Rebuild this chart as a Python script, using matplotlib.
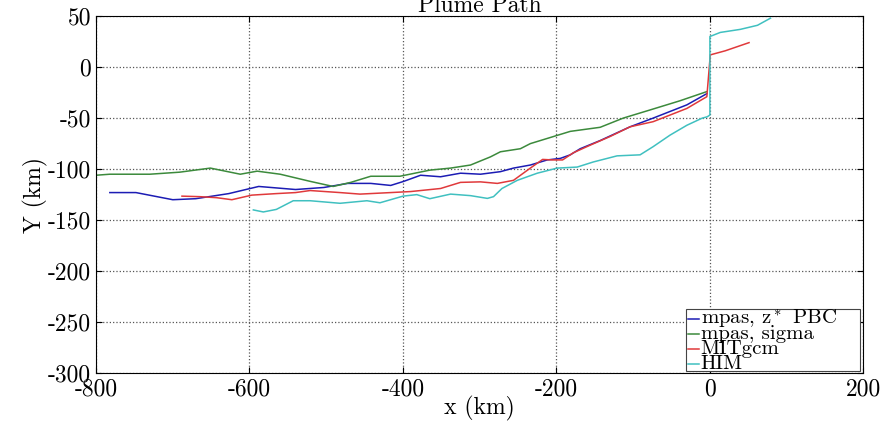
import matplotlib
matplotlib.use("Agg")
import matplotlib.pyplot as plt
from matplotlib.patches import Rectangle
from matplotlib.lines import Line2D

plt.rcParams['font.family'] = 'serif'
plt.rcParams['font.serif'] = ['cmr10', 'DejaVu Serif']
plt.rcParams['mathtext.fontset'] = 'cm'
plt.rcParams['axes.unicode_minus'] = False
plt.rcParams['axes.formatter.use_mathtext'] = False

# mpas, z* PBC
x_blue = [-782, -748, -700, -670, -627, -588, -540, -503, -472, -442, -416, -399, -377,
          -351, -325, -299, -273, -256, -234, -212, -195, -182, -169, -143, -117, -104,
          -74, -30, -4]
y_blue = [-123, -123, -130, -129, -124, -117, -120, -118, -114, -114, -116, -112, -106,
          -107.5, -104, -105, -102.5, -99, -96, -91, -89.5, -86, -80, -72, -63, -58.5,
          -50, -37, -26]

# mpas, sigma
x_green = [-800, -782, -730, -691, -651, -612, -590, -560, -521, -491, -468, -442, -404,
           -365, -338, -312, -286, -273, -247, -234, -208, -182, -143, -113, -78, -39, -4]
y_green = [-106, -105, -105, -103, -99, -105, -102, -105, -112, -117, -113, -107, -107,
           -101, -99, -96, -88, -83, -80, -75, -69, -63, -59, -50, -42, -33, -24]

# MITgcm
x_red = [-688, -665, -643, -623, -597, -565, -540, -521, -482, -456, -416, -390, -351,
         -325, -299, -277, -256, -234, -218, -205, -192, -178, -156, -130, -104, -74,
         -30, -4, 0.5, 20, 51]
y_red = [-126.5, -127, -128, -130, -125.5, -124, -123, -121, -123, -124.5, -123, -122,
         -119, -113, -112.5, -114, -111, -99, -90.5, -91, -91, -84, -76.5, -68, -58.5,
         -53.5, -40.5, -29, 12, 16, 24]

# HIM
x_cyan = [-595, -582, -565, -543, -521, -482, -447, -430, -400, -382, -365, -338, -312,
          -290, -282, -271, -251, -225, -199, -173, -152, -121, -91, -74, -52, -30, -10,
          -3.5, 0, 0, 13.5, 39.6, 62, 79]
y_cyan = [-140, -142, -139.5, -131, -131, -133.5, -131, -133, -126.5, -125, -129, -124.5,
          -126, -128.7, -127, -119, -111, -104, -99, -98, -93, -87, -86, -78, -66.7, -57,
          -50, -48.7, -47, 30, 34, 37, 41, 48]

etiquetas = [r'mpas, z$^*$ PBC', 'mpas, sigma', 'MITgcm', 'HIM']
colores = ['#1c1cb4', '#3c8a3c', '#e0393b', '#40c0c0']

fig = plt.figure(figsize=(8.81, 4.24), dpi=100)
ax = fig.add_axes([0.109, 0.12, 0.871, 0.842])

series = [(x_blue, y_blue), (x_green, y_green), (x_red, y_red), (x_cyan, y_cyan)]
for (xs, ys), c in zip(series, colores):
    ax.plot(xs, ys, color=c, lw=1.1)

ax.set_xlim(-800, 200)
ax.set_ylim(-300, 50)
ax.set_xticks([-800, -600, -400, -200, 0, 200])
ax.set_yticks([-300, -250, -200, -150, -100, -50, 0, 50])
ax.tick_params(direction='in', top=True, right=True, labelsize=17, length=4)
ax.grid(True, linestyle=':', color='#555555', linewidth=0.9)

ax.set_title('Plume Path', fontsize=17, pad=3)
ax.set_xlabel('x (km)', fontsize=17, labelpad=-3)
ax.set_ylabel('Y (km)', fontsize=17, labelpad=0)

# leyenda hecha a mano para que las filas queden juntas como en el original
caja = Rectangle((0.769, 0.006), 0.227, 0.174, transform=ax.transAxes,
                 facecolor='white', edgecolor='#444444', lw=0.8, zorder=5)
ax.add_patch(caja)
bases = [0.1373, 0.0952, 0.0532, 0.0112]
for etiqueta, c, yb in zip(etiquetas, colores, bases):
    ax.add_line(Line2D([0.771, 0.786], [yb + 0.014, yb + 0.014], transform=ax.transAxes,
                       color=c, lw=1.1, zorder=6))
    ax.text(0.788, yb, etiqueta, transform=ax.transAxes, fontsize=15,
            va='baseline', ha='left', zorder=7)

fig.savefig('out.png', dpi=100)
